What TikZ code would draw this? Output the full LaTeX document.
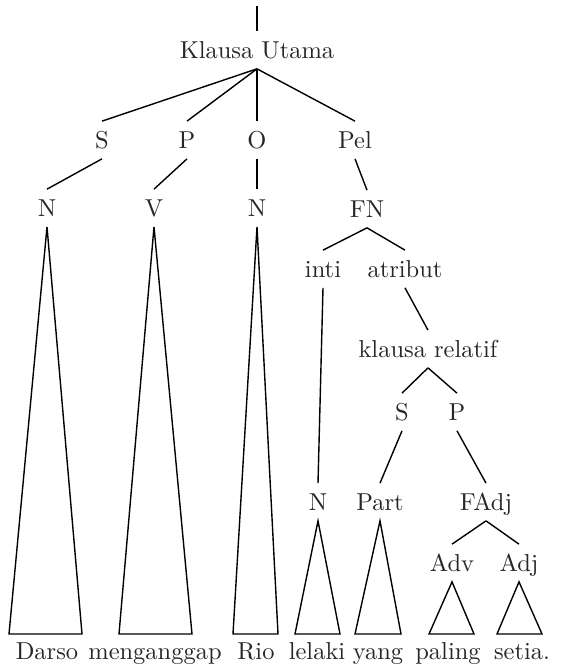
\documentclass[tikz,border=0pt]{standalone}
\begin{document}
\begin{tikzpicture}[
  x=0.429pt, y=-0.429pt,
  line width=0.6pt,
  every node/.style={font=\fontsize{10.5}{12}\selectfont, text=black!85},
  lab/.style={inner sep=0pt, outer sep=4.5pt, text height=7.17pt, text depth=0pt},
  word/.style={inner sep=0pt, text height=7.17pt, text depth=0pt},
  edge/.style={draw=black},
  tri/.style={draw=black, line join=miter}
]
\useasboundingbox (0,0) rectangle (562,668);

% labels of the tree
\node[lab] (ku)   at (257,50)  {Klausa Utama};
\node[lab] (s1)   at (102,140) {S};
\node[lab] (p1)   at (187,140) {P};
\node[lab] (o1)   at (257,140) {O};
\node[lab] (pel)  at (355,140) {Pel};
\node[lab] (n1)   at (47,208)  {N};
\node[lab] (v1)   at (154,208) {V};
\node[lab] (n2)   at (257,208) {N};
\node[lab] (fn)   at (367,209) {FN};
\node[lab] (inti) at (323,269) {inti};
\node[lab] (atr)  at (405,269) {atribut};
\node[lab] (kr)   at (428,349) {klausa relatif};
\node[lab] (s2)   at (402,412) {S};
\node[lab] (p2)   at (457,412) {P};
\node[lab] (n3)   at (318,502) {N};
\node[lab] (part) at (380,502) {Part};
\node[lab] (fadj) at (486,502) {FAdj};
\node[lab] (adv)  at (452,563) {Adv};
\node[lab] (adj)  at (519,563) {Adj};

% words of the sentence
\node[word] (w1) at (47,651)  {Darso};
\node[word] (w2) at (155,651) {menganggap};
\node[word] (w3) at (256,651) {Rio};
\node[word] (w4) at (317,651) {lelaki};
\node[word] (w5) at (378,651) {yang};
\node[word] (w6) at (448,651) {paling};
\node[word] (w7) at (522,651) {setia.};

% branches
\coordinate (root) at (257,6);
\draw[edge] (root) -- (ku.north);
\draw[edge] (ku.south) -- (s1.north);
\draw[edge] (ku.south) -- (p1.north);
\draw[edge] (ku.south) -- (o1.north);
\draw[edge] (ku.south) -- (pel.north);
\draw[edge] (s1.south) -- (n1.north);
\draw[edge] (p1.south) -- (v1.north);
\draw[edge] (o1.south) -- (n2.north);
\draw[edge] (pel.south) -- (fn.north);
\draw[edge] (fn.south) -- (inti.north);
\draw[edge] (fn.south) -- (atr.north);
\draw[edge] (inti.south) -- (n3.north);
\draw[edge] (atr.south) -- (kr.north);
\draw[edge] (kr.south) -- (s2.north);
\draw[edge] (kr.south) -- (p2.north);
\draw[edge] (s2.south) -- (part.north);
\draw[edge] (p2.south) -- (fadj.north);
\draw[edge] (fadj.south) -- (adv.north);
\draw[edge] (fadj.south) -- (adj.north);

% triangles over the words
\draw[tri] (n1.south)   -- (9,634)   -- (82,634)  -- cycle;
\draw[tri] (v1.south)   -- (119,634) -- (192,634) -- cycle;
\draw[tri] (n2.south)   -- (233,634) -- (278,634) -- cycle;
\draw[tri] (n3.south)   -- (295,634) -- (340,634) -- cycle;
\draw[tri] (part.south) -- (355,634) -- (401,634) -- cycle;
\draw[tri] (adv.south)  -- (429,634) -- (474,634) -- cycle;
\draw[tri] (adj.south)  -- (497,634) -- (542,634) -- cycle;
\end{tikzpicture}
\end{document}
